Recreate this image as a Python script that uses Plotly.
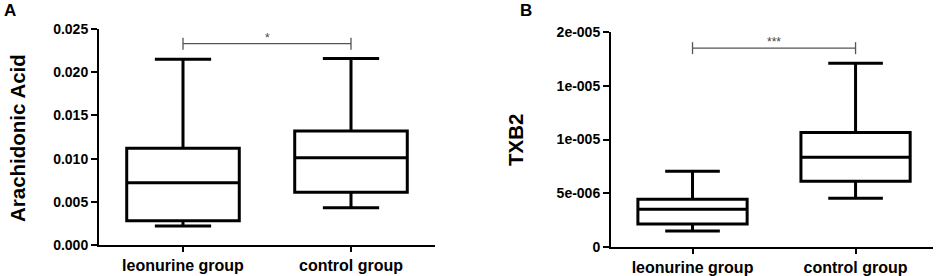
import plotly.graph_objects as go

groups = ["leonurine group", "control group"]

# Panel A: Arachidonic Acid (box statistics)
aa_min = [0.0022, 0.0043]
aa_q1 = [0.0028, 0.0061]
aa_median = [0.0072, 0.0101]
aa_q3 = [0.0112, 0.0132]
aa_max = [0.0215, 0.0216]
aa_sig_y = 0.0233
aa_sig_text = "*"
aa_ticks = [0, 0.005, 0.010, 0.015, 0.020, 0.025]
aa_ticktext = ["0.000", "0.005", "0.010", "0.015", "0.020", "0.025"]

# Panel B: TXB2 (box statistics)
tx_min = [1.48e-6, 4.54e-6]
tx_q1 = [2.13e-6, 6.11e-6]
tx_median = [3.52e-6, 8.35e-6]
tx_q3 = [4.45e-6, 10.65e-6]
tx_max = [7.05e-6, 17.1e-6]
tx_sig_y = 1.85e-5
tx_sig_text = "***"
tx_ticks = [0, 5e-6, 1e-5, 1.5e-5, 2e-5]
tx_ticktext = ["0", "5e-006", "1e-005", "1e-005", "2e-005"]

FONT = "Liberation Sans, Arial, sans-serif"
W, H = 941, 276

def px_x(v):
    return v / W

def px_y(v):
    return 1 - v / H

fig = go.Figure()

box_style = dict(
    line=dict(color="black", width=3),
    fillcolor="rgba(255,255,255,0)",
    whiskerwidth=0.5,
    width=0.67,
    showlegend=False,
    hoverinfo="skip",
)

fig.add_trace(go.Box(
    x=groups, lowerfence=aa_min, q1=aa_q1, median=aa_median, q3=aa_q3,
    upperfence=aa_max, xaxis="x", yaxis="y", **box_style))
fig.add_trace(go.Box(
    x=groups, lowerfence=tx_min, q1=tx_q1, median=tx_median, q3=tx_q3,
    upperfence=tx_max, xaxis="x2", yaxis="y2", **box_style))

axis_common = dict(
    showline=True, linecolor="black", linewidth=2,
    ticks="outside", tickcolor="black", tickwidth=2,
    showgrid=False, zeroline=False, mirror=False, automargin=False,
)

XTICK_FONT = dict(size=16, weight="bold", family=FONT)
YTICK_FONT = dict(size=14, weight="bold", family=FONT)

fig.update_layout(
    template="none",
    width=W, height=H,
    margin=dict(l=0, r=0, t=0, b=0, pad=0),
    paper_bgcolor="white", plot_bgcolor="white",
    font=dict(family=FONT, color="black"),
    xaxis=dict(domain=[px_x(99), px_x(435)], anchor="y", type="category",
               range=[-0.5, 1.5], tickfont=XTICK_FONT, ticklen=5, **axis_common),
    yaxis=dict(domain=[px_y(245), px_y(29)], anchor="x", range=[0, 0.025],
               tickvals=aa_ticks, ticktext=aa_ticktext, ticklen=6,
               tickfont=YTICK_FONT, **axis_common),
    xaxis2=dict(domain=[px_x(611), px_x(933)], anchor="y2", type="category",
                range=[-0.5, 1.475], tickfont=XTICK_FONT, ticklen=5, **axis_common),
    yaxis2=dict(domain=[px_y(247), px_y(32)], anchor="x2", range=[0, 2e-5],
                tickvals=tx_ticks, ticktext=tx_ticktext, ticklen=6,
                tickfont=YTICK_FONT, **axis_common),
)

shapes = []
annotations = []
for xr, yr, sy, st in [("x", "y", aa_sig_y, aa_sig_text), ("x2", "y2", tx_sig_y, tx_sig_text)]:
    line = dict(color="#555555", width=1.3)
    shapes.append(dict(type="line", xref=xr, yref=yr, x0=0, x1=1, y0=sy, y1=sy, line=line))
    for xi in (0, 1):
        shapes.append(dict(type="line", xref=xr, yref=yr, x0=xi, x1=xi,
                           ysizemode="pixel", yanchor=sy, y0=-6, y1=6, line=line))
    annotations.append(dict(xref=xr, yref=yr, x=0.5, y=sy, text=st, showarrow=False,
                            xanchor="center", yanchor="bottom", yshift=-3,
                            font=dict(size=12, color="#444444", family=FONT)))

# axis titles
annotations.append(dict(xref="paper", yref="paper", x=px_x(17), y=px_y(138),
                        xanchor="center", yanchor="middle",
                        text="Arachidonic Acid", textangle=-90, showarrow=False,
                        font=dict(size=20.5, weight="bold", family=FONT)))
annotations.append(dict(xref="paper", yref="paper", x=px_x(515), y=px_y(140),
                        xanchor="center", yanchor="middle",
                        text="TXB2", textangle=-90, showarrow=False,
                        font=dict(size=20.5, weight="bold", family=FONT)))
# panel letters
annotations.append(dict(xref="paper", yref="paper", x=px_x(10), y=px_y(11),
                        xanchor="center", yanchor="middle",
                        text="A", showarrow=False,
                        font=dict(size=17, weight="bold", family=FONT)))
annotations.append(dict(xref="paper", yref="paper", x=px_x(526), y=px_y(11),
                        xanchor="center", yanchor="middle",
                        text="B", showarrow=False,
                        font=dict(size=17, weight="bold", family=FONT)))

fig.update_layout(shapes=shapes, annotations=annotations)

fig.write_html("out.html", config={"displayModeBar": False},
               post_script="document.body.style.margin='0';document.body.style.padding='0';document.body.style.overflow='hidden';")
